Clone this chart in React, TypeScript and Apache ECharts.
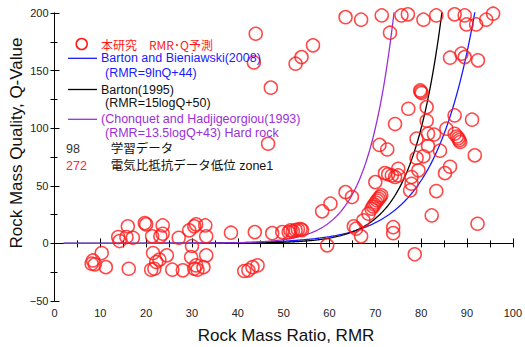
import React, { useEffect, useRef } from "react";
import * as echarts from "echarts";

// Measured points: Rock Mass Ratio (x) and Q-value (y), paired by index
const POINT_RMR = [
  8.4, 8.1, 8.8, 10.3, 11.2, 16.2, 13.9, 14.2, 15.7, 17.1, 16.0, 19.7, 20.0, 21.3, 23.6, 23.6, 23.1, 27.1, 29.4, 30.5,
  30.9, 32.9, 33.1, 38.5, 30.0, 21.5, 24.5, 22.9, 22.2, 21.1, 21.8, 25.7, 28.0, 29.8, 33.1, 30.5, 31.2, 32.5, 30.9, 41.4,
  42.3, 43.2, 44.3,
  43.7, 47.5, 49.7, 51.1, 51.5, 52.0, 52.6, 53.1, 53.7, 54.0,
  59.5, 58.4, 60.2, 63.5, 64.9, 65.3, 65.8, 66.9, 67.4, 68.5,
  69.2, 69.5, 69.8, 70.1, 70.4, 70.7, 71.0, 71.3,
  70.0, 72.1, 72.8, 73.6, 74.3, 75.0, 75.0, 77.9, 77.9, 77.6, 79.4,
  70.9, 72.6, 79.0, 80.5,
  79.0, 81.5, 82.8, 81.5, 84.1, 81.2, 74.3, 77.2, 81.2,
  79.8, 80.1, 79.9,
  85.5, 87.3, 87.3, 87.8, 88.1, 88.3, 88.5,
  91.1, 91.7, 92.3, 86.3, 85.2, 83.3, 82.3, 78.6, 73.9, 73.9,
  86.3, 88.8, 89.5, 92.4,
  63.5, 66.9, 71.4, 73.2, 75.7, 77.1, 80.5, 83.3, 87.3, 89.5, 89.9, 92.0, 94.2, 95.7,
  43.9, 43.5, 52.6, 53.9, 56.4, 47.2, 46.6,
];
const POINT_Q = [
  -14.8, -17.6, -18.2, -8.4, -20.6, -22.0, 5.5, 2.0, 5.5, 4.9, 14.8, 17.6, 16.5, 6.1, 15.6, 8.4, 6.1, 4.9, 11.3, 14.8,
  16.5, 15.6, 6.1, 9.3, -2.3, -8.4, -10.4, -14.1, -16.2, -22.8, -22.0, -22.8, -23.4, -11.9, -10.4, -22.0, -22.8, -20.6, -19.1, -24.0,
  -23.4, -20.6, -19.1,
  9.8, 8.9, 9.8, 9.8, 11.3, 10.5, 11.5, 12.0, 12.5, 11.5,
  -1.7, 27.8, 34.5, 44.5, 40.2, 14.8, 12.8, 6.1, 20.0, 25.8,
  30.1, 32.0, 33.8, 35.5, 37.2, 38.8, 40.3, 41.7,
  53.2, 61.0, 60.0, 59.0, 57.6, 59.0, 64.8, 57.6, 51.8, 46.0, 63.4,
  85.5, 81.5, 74.2, 75.6,
  90.9, 95.2, 94.5, 84.5, 80.5, 106.5, 103.6, 116.9, 118.3,
  132.8, 130.5, 131.6,
  99.6, 111.1, 95.2, 92.8, 91.2, 89.6, 88.0,
  107.4, 76.4, 17.1, 66.5, 61.0, 45.4, 24.3, -9.5, 14.1, 8.9,
  161.2, 164.7, 161.7, 158.9,
  196.4, 194.2, 197.9, 182.9, 197.9, 198.8, 194.2, 197.9, 198.8, 197.9, 190.1, 190.1, 194.2, 199.4,
  182.0, 157.1, 156.0, 161.7, 171.9, 135.2, 86.5,
];

// Axis ranges
const X_MIN = 0;
const X_MAX = 100;
const X_STEP = 10;
const Y_MIN = -50;
const Y_MAX = 200;
const Y_STEP = 50;

// Empirical RMR–Q relations shown in the legend: RMR = a * log(Q) + b
const CURVE_NAMES = ["Barton and Bieniawski(2008)", "Barton(1995)", "Chonquet and Hadjigeorgiou(1993)"];
const CURVE_A = [9, 15, 13.5];
const CURVE_B = [44, 50, 43];
const CURVE_LOG = ["ln", "log10", "log10"];
const CURVE_COLORS = ["#1a1aff", "#000000", "#9b30d6"];
const CURVE_START = 2;

const RED = "#ff1a1a";
const FONT = "Liberation Sans, Arial, sans-serif";
const MIXFONT = '"Liberation Sans", "Noto Sans CJK JP", sans-serif';
const JFONT = '"Noto Sans CJK JP", sans-serif';

function curveData(i: number) {
  const out: number[][] = [];
  for (let r = CURVE_START; r <= X_MAX; r += 0.25) {
    const e = (r - CURVE_B[i]) / CURVE_A[i];
    const q = CURVE_LOG[i] === "ln" ? Math.exp(e) : Math.pow(10, e);
    out.push([r, q]);
    if (q > Y_MAX) break;
  }
  return out;
}

function txt(text: string, x: number, y: number, fill: string, extra: any = {}) {
  return {
    type: "text",
    x,
    y,
    z: 100,
    style: {
      text,
      fill,
      fontSize: 12.5,
      fontFamily: MIXFONT,
      verticalAlign: "middle",
      ...extra,
    },
  };
}

export default function App() {
  const ref = useRef<HTMLDivElement>(null);
  useEffect(() => {
    if (!ref.current) return;
    const chart = echarts.init(ref.current, undefined, { renderer: "svg" });
    const axisLine = { show: true, lineStyle: { color: "#000", width: 1 } };
    const option: any = {
      animation: false,
      backgroundColor: "#fff",
      grid: { left: 54.5, right: 10, top: 13, bottom: 46 },
      xAxis: [
        {
          type: "value",
          min: X_MIN,
          max: X_MAX,
          interval: X_STEP,
          position: "bottom",
          axisLine,
          axisTick: { inside: true, length: 5, lineStyle: { color: "#000" } },
          minorTick: { show: true, splitNumber: 2, length: 3, lineStyle: { color: "#000" } },
          axisLabel: { margin: 6, fontSize: 11, color: "#222", fontFamily: FONT },
          splitLine: { show: false },
        },
        {
          type: "value",
          min: X_MIN,
          max: X_MAX,
          interval: 5,
          position: "top",
          axisLine,
          axisTick: { inside: true, length: 4, lineStyle: { color: "#000" } },
          axisLabel: { show: false },
          splitLine: { show: false },
        },
      ],
      yAxis: [
        {
          type: "value",
          min: Y_MIN,
          max: Y_MAX,
          interval: Y_STEP,
          position: "left",
          axisLine,
          axisTick: { inside: true, length: 5, lineStyle: { color: "#000" } },
          minorTick: { show: true, splitNumber: 2, length: 3, lineStyle: { color: "#000" } },
          axisLabel: {
            margin: 6,
            fontSize: 11,
            color: "#222",
            fontFamily: FONT,
            formatter: (v: number) => (v < 0 ? "\u2212" + Math.abs(v) : String(v)),
          },
          splitLine: { show: false },
        },
        {
          type: "value",
          min: Y_MIN,
          max: Y_MAX,
          interval: 25,
          position: "right",
          axisLine,
          axisTick: { inside: true, length: 4, lineStyle: { color: "#000" } },
          axisLabel: { show: false },
          splitLine: { show: false },
        },
      ],
      series: [
        ...CURVE_NAMES.map((name, i) => ({
          type: "line",
          name,
          xAxisIndex: 0,
          yAxisIndex: 0,
          data: curveData(i),
          showSymbol: false,
          symbol: "none",
          clip: true,
          lineStyle: { color: CURVE_COLORS[i], width: 1.3 },
          z: 3,
        })),
        {
          type: "scatter",
          name: "本研究 RMR･Q予測",
          xAxisIndex: 0,
          yAxisIndex: 0,
          data: POINT_RMR.map((r, i) => [r, POINT_Q[i]]),
          symbol: "circle",
          symbolSize: 13,
          itemStyle: { color: "rgba(0,0,0,0)", borderColor: RED, borderWidth: 1.5 },
          z: 4,
        },
      ],
      graphic: [
        {
          type: "text",
          x: 16,
          y: 143,
          rotation: Math.PI / 2,
          style: {
            text: "Rock Mass Quality, Q-Value",
            fill: "#111",
            fontSize: 17,
            fontFamily: FONT,
            align: "center",
            verticalAlign: "middle",
          },
        },
        {
          type: "text",
          x: 286,
          y: 335,
          style: {
            text: "Rock Mass Ratio, RMR",
            fill: "#111",
            fontSize: 17,
            fontFamily: FONT,
            align: "center",
            verticalAlign: "middle",
          },
        },
        {
          type: "circle",
          z: 100,
          shape: { cx: 81.7, cy: 44, r: 5.5 },
          style: { fill: "none", stroke: RED, lineWidth: 1.5 },
        },
        txt("本研究\u3000RMR･Q予測", 101, 44, RED, { fontSize: 12, fontFamily: JFONT }),
        { type: "line", z: 100, shape: { x1: 68, y1: 58.3, x2: 97, y2: 58.3 }, style: { stroke: CURVE_COLORS[0], lineWidth: 1.3 } },
        txt("Barton and Bieniawski(2008)", 101, 58.3, CURVE_COLORS[0]),
        txt("(RMR=9lnQ+44)", 105, 72.5, CURVE_COLORS[0]),
        { type: "line", z: 100, shape: { x1: 68, y1: 89.5, x2: 97, y2: 89.5 }, style: { stroke: CURVE_COLORS[1], lineWidth: 1.3 } },
        txt("Barton(1995)", 101, 89.5, "#111"),
        txt("(RMR=15logQ+50)", 105, 102.8, "#111"),
        { type: "line", z: 100, shape: { x1: 68, y1: 119.3, x2: 97, y2: 119.3 }, style: { stroke: CURVE_COLORS[2], lineWidth: 1.3 } },
        txt("(Chonquet and Hadjigeorgiou(1993)", 101, 119.3, CURVE_COLORS[2]),
        txt("(RMR=13.5logQ+43) Hard rock", 105, 133.3, CURVE_COLORS[2]),
        txt("98", 66, 148.5, "#333"),
        txt("学習データ", 110.7, 148.5, "#111"),
        txt("272", 66, 166, "#ff1a4a"),
        txt("電気比抵抗データ低位 zone1", 110.7, 166, "#111"),
      ],
    };
    chart.setOption(option);
    return () => chart.dispose();
  }, []);
  return (
    <div
      ref={ref}
      style={{ position: "fixed", left: 0, top: 0, width: 525, height: 347, background: "#fff" }}
    />
  );
}
